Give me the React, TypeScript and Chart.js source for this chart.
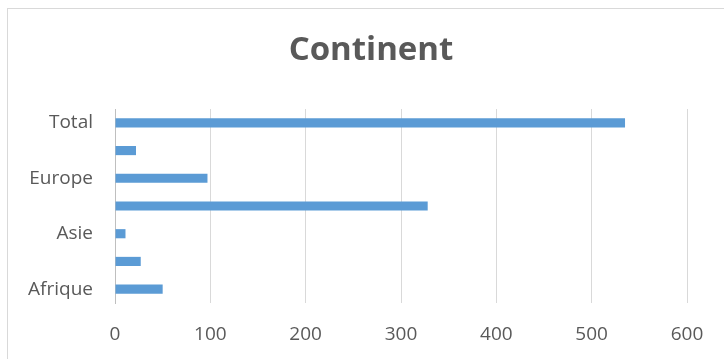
import React, { useEffect, useRef } from "react";
import { Chart, registerables } from "chart.js";

Chart.register(...registerables);

// Categories in source order (bottom to top in the chart)
const categories = ["Afrique", "Amérique", "Asie", "Australie", "Europe", "Océanie", "Total"];
const values = [50, 27, 11, 328, 97, 22, 535];
const xTicks = [0, 100, 200, 300, 400, 500, 600];
const chartTitle = "Continent";

export default function App() {
  const ref = useRef<HTMLCanvasElement | null>(null);

  useEffect(() => {
    document.body.style.overflow = "hidden";
    const canvas = ref.current;
    if (!canvas) return;
    const chart = new Chart(canvas, {
      type: "bar",
      data: {
        labels: categories,
        datasets: [
          {
            data: values,
            backgroundColor: "#5b9bd5",
            borderWidth: 0,
            barPercentage: 0.33,
            categoryPercentage: 1,
          },
        ],
      },
      options: {
        indexAxis: "y",
        animation: false,
        responsive: false,
        maintainAspectRatio: false,
        layout: { padding: 0 },
        plugins: {
          legend: { display: false },
          tooltip: { enabled: false },
          title: {
            display: true,
            text: chartTitle,
            color: "#595959",
            font: { family: "Open Sans", size: 33, weight: "bold", lineHeight: 1.2 },
            padding: { top: 22, bottom: 38.4 },
          },
        },
        scales: {
          x: {
            min: 0,
            max: 600,
            afterBuildTicks: (scale: any) => {
              scale.ticks = xTicks.map((v) => ({ value: v }));
            },
            afterFit: (scale: any) => {
              scale.height = 56;
            },
            grid: { color: "#d9d9d9", lineWidth: 1, drawTicks: false },
            border: { display: false },
            ticks: {
              color: "#595959",
              font: { family: "Open Sans", size: 19 },
              padding: 20,
            },
          },
          y: {
            reverse: true,
            grid: { display: false, drawTicks: false },
            border: { display: true, color: "#bfbfbf", width: 1 },
            afterFit: (scale: any) => {
              scale.width = 106;
            },
            ticks: {
              autoSkip: false,
              color: "#595959",
              font: { family: "Open Sans", size: 19 },
              padding: 22,
              callback: function (this: any, _v: any, i: number) {
                return i % 2 === 0 ? categories[i] : "";
              },
            },
          },
          spacer: {
            type: "linear",
            position: "right",
            axis: "y",
            display: true,
            grid: { display: false, drawTicks: false },
            border: { display: false },
            ticks: { display: false },
            afterFit: (scale: any) => {
              scale.width = 46;
            },
          },
        },
      },
    });
    return () => chart.destroy();
  }, []);

  return (
    <div
      style={{
        position: "absolute",
        left: 7,
        top: 8,
        width: 760,
        height: 400,
        border: "1px solid #d9d9d9",
        background: "#fff",
        overflow: "hidden",
      }}
    >
      <canvas ref={ref} width={724} height={350} style={{ display: "block", marginLeft: 1 }} />
    </div>
  );
}
